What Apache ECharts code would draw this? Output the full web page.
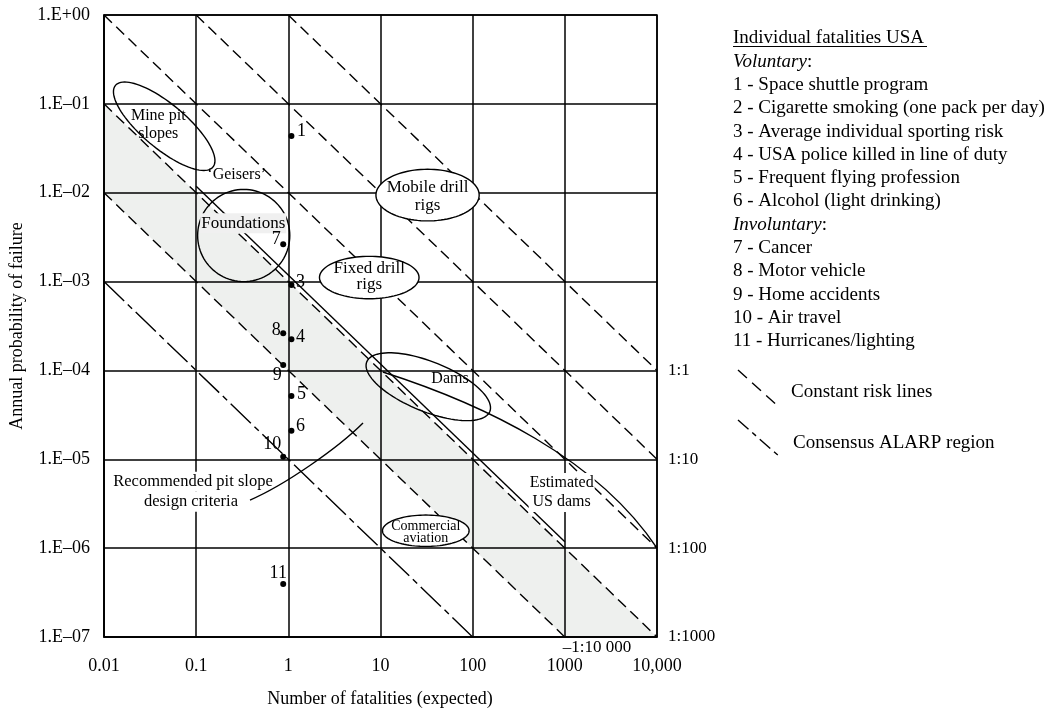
<!DOCTYPE html>
<html><head><meta charset="utf-8">
<script src="https://cdn.jsdelivr.net/npm/echarts@6/dist/echarts.min.js"></script>
<style>html,body{margin:0;padding:0;background:#fff}#c{width:1053px;height:712px}</style>
</head><body><div id="c"></div>
<script>
// ---------- DATA ----------
const xTickValues = [0.01, 0.1, 1, 10, 100, 1000, 10000];
const xTickLabels = ['0.01', '0.1', '1', '10', '100', '1000', '10,000'];
const yTickValues = [1, 1e-1, 1e-2, 1e-3, 1e-4, 1e-5, 1e-6, 1e-7];
const yTickLabels = ['1.E+00', '1.E\u201301', '1.E\u201302', '1.E\u201303', '1.E\u201304', '1.E\u201305', '1.E\u201306', '1.E\u201307'];

// individual fatality points (number of fatalities, annual probability)
const pointIds = ['1', '2', '3', '4', '5', '6', '7', '8', '9', '10', '11'];
const pointN = [1.08, 1.08, 1.08, 1.08, 1.08, 1.08, 0.88, 0.88, 0.88, 0.88, 0.88];
const pointP = [4.35e-2, 4.45e-3, 9.15e-4, 2.24e-4, 5.15e-5, 2.1e-5, 2.63e-3, 2.62e-4, 1.15e-4, 1.07e-5, 3.95e-7];

// constant risk lines (p x N) and consensus ALARP line
const riskLevels = [1, 0.1, 0.01, 1e-3, 1e-4];
const alarpLevels = [1e-5];
// solid line next to the 1:1000 line
const solidN = [0.1, 1000];
const solidP = [1.18e-2, 1.18e-6];

// ALARP band (grey) vertices
const bandN = [0.01, 10000, 1000, 0.01];
const bandP = [0.1, 1e-7, 1e-7, 0.01];

// Estimated US dams envelope curve (start, control 1, control 2, end)
const damsCurveN = [10.6, 129.4, 2233, 10000];
const damsCurveP = [9.6e-5, 4.19e-5, 1.035e-5, 1e-6];

// pointer curve for recommended pit slope design criteria (start, control 1, control 2, end)
const pitCurveN = [0.384, 0.92, 3.46, 6.46];
const pitCurveP = [3.48e-6, 5.14e-6, 1.34e-5, 2.56e-5];

// ellipses: centre (N, p), semi-axes in decades, rotation (deg)
const ellipseNames = ['Mine pit slopes', 'Foundations', 'Fixed drill rigs', 'Mobile drill rigs', 'Dams', 'Commercial aviation'];
const ellipseN = [0.045, 0.328, 7.55, 32.4, 33, 31];
const ellipseP = [0.056, 0.0033, 1.11e-3, 9.4e-3, 6.56e-5, 1.57e-6];
const ellipseRx = [0.69, 0.5, 0.54, 0.56, 0.72, 0.47];
const ellipseRy = [0.24, 0.5, 0.23, 0.28, 0.27, 0.17];
const ellipseRot = [40, 0, 0, 0, 22, 0];

// annotation texts
const annoTexts = ['Mine pit\nslopes', '\u2018Geisers\u2019', 'Foundations', 'Fixed drill\nrigs', 'Mobile drill\nrigs', 'Dams', 'Commercial\naviation', 'Estimated\nUS dams', 'Recommended pit slope', 'design criteria'];
const annoN = [0.0388, 0.275, 0.324, 7.55, 32.4, 56.8, 31, 924, 0.0924, 0.0879];
const annoP = [0.0578, 0.0158, 4.53e-3, 1.14e-3, 9.1e-3, 8.15e-5, 1.50e-6, 4.23e-6, 5.6e-6, 3.33e-6];

// risk ratio labels
const ratioTexts = ['1:1', '1:10', '1:100', '1:1000', '\u20131:10 000'];
const ratioN = [10000, 10000, 10000, 10000, 1000];
const ratioP = [1e-4, 1e-5, 1e-6, 1e-7, 1e-7];

// legend texts
const legendTitle = 'Individual fatalities USA';
const legendLines = ['{i|Voluntary}:', '1 - Space shuttle program', '2 - Cigarette smoking (one pack per day)',
  '3 - Average individual sporting risk', '4 - USA police killed in line of duty', '5 - Frequent flying profession',
  '6 - Alcohol (light drinking)', '{i|Involuntary}:', '7 - Cancer', '8 - Motor vehicle', '9 - Home accidents',
  '10 - Air travel', '11 - Hurricanes/lighting'];
const legendKeys = ['Constant risk lines', 'Consensus ALARP region'];

// ---------- STYLE ----------
const FONT = "'Liberation Serif', 'DejaVu Serif', serif";
const BLACK = '#000';
const X_MIN = 0.01, X_MAX = 10000, Y_MIN = 1e-7, Y_MAX = 1;
const DASH = [11, 6];
const DASHDOT = [28, 5, 6, 5];

const pointLabelOffsets = [[10, -5], [9, 0], [9, -3], [9, -2], [10, -2], [9, -4], [-7, -5], [-7, -3], [-6, 10], [-11, -12], [-5, -11]];
const annoFont = [16, 16, 17, 17, 17, 16, 14, 16, 16.5, 16.5];
const annoLH = [17.5, 18, 18, 16, 18.5, 18, 12, 18.5, 18, 18];
const annoBg = [null, null, '#f0f0f0', null, null, null, null, '#fff', '#fff', '#fff'];
const ellipseFill = [false, false, true, true, false, true];
const ratioOffsets = [[11, 0], [11, 0], [11, 0], [11, 0], [-2, 11]];

function tickIndex(vals, v) {
  const lv = Math.log10(v);
  return vals.findIndex(t => Math.abs(Math.log10(t) - lv) < 1e-6);
}
function riskSegment(k) {
  const n0 = Math.max(X_MIN, k / Y_MAX);
  const n1 = Math.min(X_MAX, k / Y_MIN);
  return [[n0, k / n0], [n1, k / n1]];
}
function lineSeries(data, type) {
  return {
    type: 'line', data: data, symbol: 'none', silent: true,
    lineStyle: { color: BLACK, width: 1.4, type: type }, z: 3
  };
}
function curveSeries(ns, ps, z) {
  return {
    type: 'custom', silent: true, z: z,
    data: [[ns[0], ps[0]]],
    renderItem: function (params, api) {
      const p = ns.map((n, i) => api.coord([n, ps[i]]));
      return {
        type: 'bezierCurve',
        shape: { x1: p[0][0], y1: p[0][1], cpx1: p[1][0], cpy1: p[1][1], cpx2: p[2][0], cpy2: p[2][1], x2: p[3][0], y2: p[3][1] },
        style: { stroke: BLACK, fill: null, lineWidth: 1.4 }
      };
    }
  };
}

const series = [];
// grey ALARP band
series.push({
  type: 'custom', z: -1, silent: true,
  data: [[bandN[0], bandP[0]]],
  renderItem: function (params, api) {
    const pts = bandN.map((n, i) => api.coord([n, bandP[i]]));
    return { type: 'polygon', shape: { points: pts }, style: { fill: '#eef0ee', stroke: null } };
  }
});
riskLevels.forEach(k => series.push(lineSeries(riskSegment(k), DASH)));
alarpLevels.forEach(k => series.push(lineSeries(riskSegment(k), DASHDOT)));
series.push(lineSeries(solidN.map((n, i) => [n, solidP[i]]), 'solid'));
series.push(curveSeries(damsCurveN, damsCurveP, 3));
series.push(curveSeries(pitCurveN, pitCurveP, 8));

// ellipses
series.push({
  type: 'custom', silent: true, z: 4,
  data: ellipseN.map((n, i) => [n, ellipseP[i], ellipseRx[i], ellipseRy[i], ellipseRot[i]]),
  renderItem: function (params, api) {
    const c = api.coord([api.value(0), api.value(1)]);
    const dec = api.coord([10, 1])[0] - api.coord([1, 1])[0];
    const a = api.value(2) * dec, b = api.value(3) * dec, th = api.value(4) * Math.PI / 180;
    const pts = [];
    for (let i = 0; i < 96; i++) {
      const t = 2 * Math.PI * i / 96;
      const x = a * Math.cos(t), y = b * Math.sin(t);
      pts.push([c[0] + x * Math.cos(th) - y * Math.sin(th), c[1] + x * Math.sin(th) + y * Math.cos(th)]);
    }
    return {
      type: 'polygon', shape: { points: pts },
      style: { fill: ellipseFill[params.dataIndex] ? '#fff' : 'none', stroke: BLACK, lineWidth: 1.4 }
    };
  }
});

// annotation texts
series.push({
  type: 'custom', silent: true, z: 6, clip: false,
  data: annoN.map((n, i) => [n, annoP[i]]),
  renderItem: function (params, api) {
    const i = params.dataIndex;
    const c = api.coord([api.value(0), api.value(1)]);
    const st = {
      text: annoTexts[i], font: annoFont[i] + 'px ' + FONT, fill: BLACK,
      align: 'center', verticalAlign: 'middle', lineHeight: annoLH[i]
    };
    if (annoBg[i]) { st.backgroundColor = annoBg[i]; st.padding = [1, 1]; }
    return { type: 'text', x: c[0], y: c[1], style: st };
  }
});

// points
series.push({
  type: 'scatter', silent: true, z: 9,
  symbol: 'circle', symbolSize: 6,
  itemStyle: { color: BLACK },
  data: pointN.map((n, i) => ({
    value: [n, pointP[i]],
    itemStyle: { opacity: pointIds[i] === '2' ? 0 : 1 },
    label: {
      show: true, position: 'inside', offset: pointLabelOffsets[i], formatter: pointIds[i],
      color: BLACK, fontFamily: FONT, fontSize: 18
    }
  }))
});

// ratio labels
series.push({
  type: 'custom', silent: true, z: 7, clip: false,
  data: ratioN.map((n, i) => [n, ratioP[i]]),
  renderItem: function (params, api) {
    const i = params.dataIndex;
    const c = api.coord([api.value(0), api.value(1)]);
    return {
      type: 'text', x: c[0] + ratioOffsets[i][0], y: c[1] + ratioOffsets[i][1],
      style: { text: ratioTexts[i], font: '17px ' + FONT, fill: BLACK, align: 'left', verticalAlign: 'middle' }
    };
  }
});

// legend graphics
const graphic = [];
graphic.push({ type: 'text', x: 733, y: 38.5, style: { text: legendTitle, font: '19px ' + FONT, fill: BLACK, verticalAlign: 'middle' } });
graphic.push({ type: 'line', shape: { x1: 733, y1: 46.5, x2: 927, y2: 46.5 }, style: { stroke: BLACK, lineWidth: 1 } });
legendLines.forEach((t, i) => {
  graphic.push({
    type: 'text', x: 733, y: 61.7 + i * 23.3,
    style: {
      text: t, font: '19px ' + FONT, fill: BLACK, verticalAlign: 'middle',
      rich: { i: { fontStyle: 'italic', fontFamily: FONT, fontSize: 19, fill: BLACK } }
    }
  });
});
graphic.push({ type: 'line', shape: { x1: 738, y1: 370, x2: 780, y2: 408 }, style: { stroke: BLACK, lineWidth: 1.4, lineDash: [12, 7] } });
graphic.push({ type: 'text', x: 791, y: 392, style: { text: legendKeys[0], font: '19px ' + FONT, fill: BLACK, verticalAlign: 'middle' } });
graphic.push({ type: 'line', shape: { x1: 738, y1: 420, x2: 780, y2: 457 }, style: { stroke: BLACK, lineWidth: 1.4, lineDash: [14, 5, 5, 5] } });
graphic.push({ type: 'text', x: 793, y: 443.5, style: { text: legendKeys[1], font: '19px ' + FONT, fill: BLACK, verticalAlign: 'middle' } });
// axis titles
graphic.push({ type: 'text', x: 17, y: 326, rotation: Math.PI / 2, style: { text: 'Annual probability of failure', font: '18px ' + FONT, fill: BLACK, align: 'center', verticalAlign: 'middle' } });
graphic.push({ type: 'text', x: 380, y: 699, style: { text: 'Number of fatalities (expected)', font: '18px ' + FONT, fill: BLACK, align: 'center', verticalAlign: 'middle' } });

const option = {
  animation: false,
  backgroundColor: '#fff',
  grid: { left: 104, top: 15, width: 553, height: 622, show: true, borderColor: BLACK, borderWidth: 1.5, backgroundColor: 'transparent' },
  xAxis: {
    type: 'log', logBase: 10, min: X_MIN, max: X_MAX, splitNumber: 6,
    axisLine: { show: true, lineStyle: { color: BLACK, width: 1.5 } },
    axisTick: { show: false },
    axisLabel: { color: BLACK, fontFamily: FONT, fontSize: 18, margin: 20, formatter: v => xTickLabels[tickIndex(xTickValues, v)] || '' },
    splitLine: { show: true, lineStyle: { color: BLACK, width: 1.5 } }
  },
  yAxis: {
    type: 'log', logBase: 10, min: Y_MIN, max: Y_MAX, splitNumber: 7,
    axisLine: { show: true, lineStyle: { color: BLACK, width: 1.5 } },
    axisTick: { show: false },
    axisLabel: { color: BLACK, fontFamily: FONT, fontSize: 18, margin: 14, formatter: v => yTickLabels[tickIndex(yTickValues, v)] || '' },
    splitLine: { show: true, lineStyle: { color: BLACK, width: 1.5 } }
  },
  graphic: graphic,
  series: series
};
const chart = echarts.init(document.getElementById('c'), null, { renderer: 'canvas' });
chart.setOption(option);
</script>
</body></html>
